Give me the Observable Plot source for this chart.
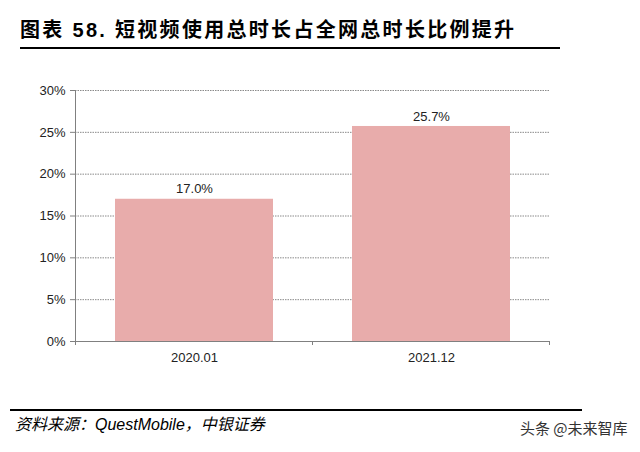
<!DOCTYPE html>
<html>
<head>
<meta charset="utf-8">
<script src="https://cdn.jsdelivr.net/npm/d3@7"></script>
<script src="https://cdn.jsdelivr.net/npm/@observablehq/plot@0.6"></script>
<style>
  html, body { margin: 0; padding: 0; background: #fff; }
  #wrap { position: relative; width: 640px; height: 452px; overflow: hidden; background: #fff; }
  #chart { position: absolute; left: 0; top: 0; }
  .title { position: absolute; left: 20px; top: 18px; font-size: 20px; font-weight: bold; line-height: 24px; letter-spacing: 2.3px;
    font-family: "Liberation Sans", "Noto Sans CJK SC", sans-serif; color: #000; white-space: nowrap; }
  .rule { position: absolute; background: #000; }
  .source { position: absolute; left: 15px; top: 414px; font-size: 16px; font-style: italic; line-height: 22px;
    font-family: "Liberation Sans", "Noto Sans CJK SC", sans-serif; color: #000; white-space: nowrap; }
  .mark { position: absolute; left: 520px; top: 417px; font-size: 15px; line-height: 22px; color: #333;
    font-family: "Noto Sans CJK SC", sans-serif; white-space: nowrap; }
</style>
</head>
<body>
<div id="wrap">
  <div id="chart"></div>
  <div class="title">图表 58. 短视频使用总时长占全网总时长比例提升</div>
  <div class="rule" style="left:20px; top:47px; width:540px; height:2px;"></div>
  <div class="rule" style="left:10px; top:409px; width:572px; height:2px;"></div>
  <div class="source">资料来源：QuestMobile，中银证券</div>
  <div class="mark">头条 @未来智库</div>
</div>
<script>
const categories = ["2020.01", "2021.12"];
const values = [0.170, 0.257];
const valueLabels = ["17.0%", "25.7%"];
const yTicks = [0, 0.05, 0.10, 0.15, 0.20, 0.25, 0.30];

const data = categories.map((c, i) => ({category: c, value: values[i], label: valueLabels[i]}));

const W = 640, H = 452, mL = 75, mR = 90, mT = 90, mB = 111;

const chart = Plot.plot({
  width: W, height: H,
  marginLeft: mL, marginRight: mR, marginTop: mT, marginBottom: mB,
  style: {fontFamily: "'Liberation Sans', Arial, sans-serif", fontSize: "13px", color: "#222", background: "transparent", overflow: "visible"},
  x: {domain: categories, paddingInner: 0.335, paddingOuter: 0.168, axis: null, label: null},
  y: {domain: [0, 0.30], axis: null, label: null},
  marks: [
    Plot.ruleY(yTicks.slice(1), {stroke: "#8a8a8a", strokeDasharray: "1.5,1", strokeWidth: 1}),
    Plot.barY(data, {x: "category", y: "value", fill: "#e8acab"}),
    Plot.ruleY([0], {stroke: "#808080", strokeWidth: 1}),
    Plot.axisY(yTicks, {anchor: "left", label: null, tickFormat: d => Math.round(d * 100) + "%", tickSize: 5, tickPadding: 5, stroke: "#808080", fill: "#222", fontSize: 13}),
    Plot.axisX({anchor: "bottom", label: null, tickSize: 0, tickPadding: 11, fill: "#222", fontSize: 13}),
    Plot.text(data, {x: "category", y: "value", text: "label", dy: -10, fontSize: 13, fill: "#222"})
  ]
});

// Excel-style axis lines: y-axis line and x ticks at band boundaries
const xs = chart.scale("x"), ys = chart.scale("y");
const svg = d3.select(chart);
const y0 = ys.apply(0), yTop = ys.apply(0.30);
const left = xs.apply(categories[0]) + xs.bandwidth / 2 - xs.step / 2;
svg.append("line").attr("x1", left).attr("x2", left).attr("y1", yTop).attr("y2", y0)
  .attr("stroke", "#808080").attr("stroke-width", 1);
const bounds = categories.map(c => xs.apply(c) + xs.bandwidth / 2 - xs.step / 2);
bounds.push(xs.apply(categories[categories.length - 1]) + xs.bandwidth / 2 + xs.step / 2);
bounds.forEach(b => {
  svg.append("line").attr("x1", b).attr("x2", b).attr("y1", y0).attr("y2", y0 + 4)
    .attr("stroke", "#808080").attr("stroke-width", 1);
});

document.getElementById("chart").appendChild(chart);
</script>
</body>
</html>
